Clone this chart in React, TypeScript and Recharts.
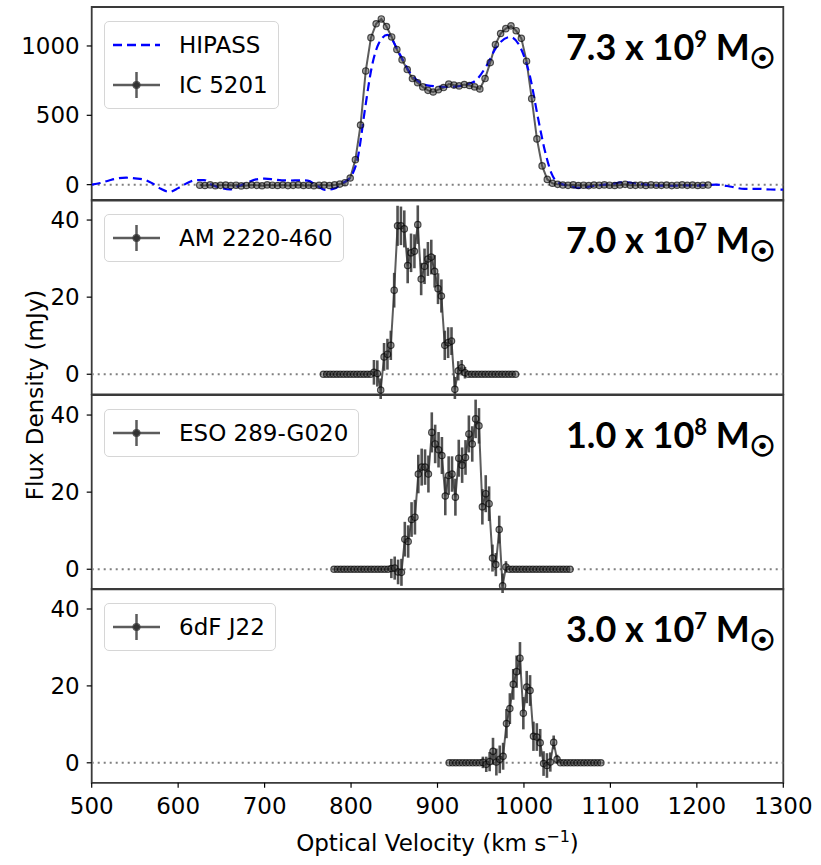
import {
  ErrorBar,
  Legend,
  Line,
  LineChart,
  ReferenceArea,
  ReferenceLine,
  XAxis,
  YAxis,
} from 'recharts'

// x axis
const velocityTicks = [500, 600, 700, 800, 900, 1000, 1100, 1200, 1300]

// HIPASS spectrum (blue dashed), velocity / flux in mJy
const hipassVel = [
  500, 510, 520, 530, 540, 550, 560, 570, 580, 590, 600, 610, 620, 630, 640, 650, 660, 670, 680,
  690, 700, 710, 720, 730, 740, 750, 760, 770, 780, 790, 800, 808, 816, 824, 832, 842, 856, 868,
  888, 914, 941, 957, 968, 984, 999, 1007, 1016, 1024, 1032, 1038, 1046, 1056, 1065, 1080, 1100,
  1117, 1130, 1150, 1170, 1185, 1200, 1222, 1240, 1255, 1270, 1285, 1300,
]
const hipassFlux = [
  0, 12, 30, 45, 50, 45, 38, 10, -30, -52, -25, 10, 32, 33, -5, -25, -34, -10, 15, 38, 43, 38,
  31, 30, 31, 29, -5, -38, -30, 10, 60, 200, 540, 850, 1017, 1080, 945, 810, 716, 704, 738, 860,
  990, 1065, 945, 780, 490, 250, 80, 20, 0, -15, -24, -10, 5, 17, 8, -5, -8, -5, -7, 0, -15, -31,
  -30, -35, -36,
]

// IC 5201 (channels of 6 km/s from 625 km/s)
const ic5201Start = 625
const ic5201Step = 6
const ic5201Flux = [
  -4, -6, -2, -8, -5, -3, -7, -4, -9, -6, -3, -5, -8, -2, -4, -6, -3, -7, -5, -2, -6, -4, -8, -5,
  -3, -6, -2, 4, 14, 48, 180, 430, 820, 1060, 1160, 1195, 1140, 1065, 975, 900, 830, 765, 735, 705,
  680, 668, 685, 700, 725, 718, 712, 722, 715, 705, 690, 765, 880, 1010, 1090, 1125, 1145, 1110,
  1055, 890, 620, 330, 135, 38, 10, 2, -3, -5, -2, -6, -4, -7, -3, -5, -2, -4, -6, -3, 2, -4, -5,
  -3, -6, -2, -4, -5, -3, -7, -4, -2, -5, -3, -6, -4, -3,
]

// AM 2220-460 (channels of 3.9 km/s from 768 km/s)
const am2220Start = 768
const am2220Step = 3.9
const am2220Flux = [
  0, 0, 0, 0, 0, 0, 0, 0, 0, 0, 0, 0, 0, 0, 0, 0.5, 0.2, -4.1, 4.5, 5.2, 7.5, 21.8, 38.5, 38.5,
  37.7, 28.2, 31.5, 31.9, 38.8, 24.7, 28, 29.9, 30.4, 26.7, 22.2, 20.3, 7.5, 8.2, 8.6, -3.9, 0.9,
  1.7, 0.4, 0, 0, 0, 0, 0, 0, 0, 0, 0, 0, 0, 0, 0, 0, 0,
]
const am2220Err = [
  0, 0, 0, 0, 0, 0, 0, 0, 0, 0, 0, 0, 0, 0, 0, 3.2, 3.4, 3.0, 3.6, 4.0, 3.8, 4.5, 5.2, 5.0, 4.8,
  4.6, 5.0, 4.4, 5.0, 4.2, 4.6, 4.4, 4.5, 4.2, 4.0, 4.3, 3.8, 4.0, 3.6, 3.2, 2.5, 2.0, 1.5, 0, 0,
  0, 0, 0, 0, 0, 0, 0, 0, 0, 0, 0, 0, 0,
]

// ESO 289-G020 (channels of 3.9 km/s from 780.3 km/s)
const eso289Start = 780.3
const eso289Step = 3.9
const eso289Flux = [
  0, 0, 0, 0, 0, 0, 0, 0, 0, 0, 0, 0, 0, 0, 0, 0, 0, 0.2, 0.3, -0.7, -0.8, 7.8, 7.2, 12.9, 13.5,
  24.7, 26.5, 26.5, 24.7, 35.5, 32.5, 31, 29.5, 19, 24.3, 24.7, 18.7, 28.8, 27, 29, 35.1, 32.5,
  39, 37.2, 16.2, 19.6, 17, 2.9, 1.2, 10.3, -4.3, 0.6, 0, 0, 0, 0, 0, 0, 0, 0, 0, 0, 0, 0, 0, 0,
  0, 0, 0, 0, 0,
]
const eso289Err = [
  0, 0, 0, 0, 0, 0, 0, 0, 0, 0, 0, 0, 0, 0, 0, 0, 0, 2.5, 3, 3.2, 3.5, 4.5, 4.2, 4.5, 4.5, 5, 4.8,
  4.6, 4.8, 5.2, 5, 4.6, 4.8, 5, 5, 4.6, 4.8, 4.8, 4.6, 4.5, 4.8, 4.6, 5, 4.6, 4.6, 4.8, 4.5, 3.5,
  3, 3.6, 3.2, 1.5, 0, 0, 0, 0, 0, 0, 0, 0, 0, 0, 0, 0, 0, 0, 0, 0, 0, 0, 0,
]

// 6dF J22 (channels of 3.9 km/s from 913.5 km/s)
const j22Start = 913.5
const j22Step = 3.9
const j22Flux = [
  0, 0, 0, 0, 0, 0, 0, 0, 0, 0, 0.1, -0.4, 0.3, 3.0, 0.2, 0.9, 1.7, 10.2, 14.1, 20.4, 23.7, 27.2,
  12.9, 19.7, 18.8, 6.9, 6.7, 5.2, -0.2, -0.7, 0.2, 5.3, 0.9, 0, 0, 0, 0, 0, 0, 0, 0, 0, 0, 0, 0, 0,
]
const j22Err = [
  0, 0, 0, 0, 0, 0, 0, 0, 0, 0, 1.5, 2, 2.5, 3.5, 3.5, 3.6, 3.5, 3.8, 4, 4, 4.2, 4.2, 4.2, 4.2, 4,
  3.8, 3.6, 3.6, 3.2, 3.2, 2.5, 1.8, 1.2, 0, 0, 0, 0, 0, 0, 0, 0, 0, 0, 0, 0, 0,
]

const FONT = 'DejaVu Sans'
const FS = 23
const W = 821
const PANEL_TOPS = [6.7, 200.3, 394.6, 588.9, 782.7]
const PAD = 4
const X_AXIS_H = 50

const channels = (start: number, step: number, flux: number[], err?: number[]) =>
  flux.map((f, i) => ({ v: +(start + step * i).toFixed(1), f, e: err ? err[i] : 0 }))

const hipassData = hipassVel.map((v, i) => ({ v, f: hipassFlux[i] }))

type LegendRow = { label: string; kind: 'dash' | 'err' }

const panels = [
  {
    data: channels(ic5201Start, ic5201Step, ic5201Flux),
    hipass: true,
    domain: [-115, 1281],
    ticks: [0, 500, 1000],
    legend: [
      { label: 'HIPASS', kind: 'dash' },
      { label: 'IC 5201', kind: 'err' },
    ] as LegendRow[],
    mass: ['7.3', '9'],
  },
  {
    data: channels(am2220Start, am2220Step, am2220Flux, am2220Err),
    hipass: false,
    domain: [-5.2, 45.2],
    ticks: [0, 20, 40],
    legend: [{ label: 'AM 2220-460', kind: 'err' }] as LegendRow[],
    mass: ['7.0', '7'],
  },
  {
    data: channels(eso289Start, eso289Step, eso289Flux, eso289Err),
    hipass: false,
    domain: [-5.2, 45.2],
    ticks: [0, 20, 40],
    legend: [{ label: 'ESO 289-G020', kind: 'err' }] as LegendRow[],
    mass: ['1.0', '8'],
  },
  {
    data: channels(j22Start, j22Step, j22Flux, j22Err),
    hipass: false,
    domain: [-5.2, 45.2],
    ticks: [0, 20, 40],
    legend: [{ label: '6dF J22', kind: 'err' }] as LegendRow[],
    mass: ['3.0', '7'],
  },
]

function LegendIcon({ kind }: { kind: 'dash' | 'err' }) {
  return (
    <svg width={48} height={30} style={{ display: 'block' }}>
      {kind === 'dash' ? (
        <line x1={0} y1={15} x2={47} y2={15} stroke="#0000ff" strokeWidth={2.5} strokeDasharray="9 5" />
      ) : (
        <g stroke="#333" strokeOpacity={0.8} strokeWidth={2.5}>
          <line x1={0} y1={15} x2={47} y2={15} />
          <line x1={23.5} y1={2} x2={23.5} y2={28} />
          <circle cx={23.5} cy={15} r={2.8} fill="#333" />
        </g>
      )}
    </svg>
  )
}

function LegendBox({ rows }: { rows: LegendRow[] }) {
  return (
    <div
      style={{
        boxSizing: 'border-box',
        border: '1.5px solid #d6d6d6',
        borderRadius: 5,
        background: 'rgba(255,255,255,0.85)',
        padding: '3px 10px 3px 8px',
        fontFamily: FONT,
        fontSize: FS,
        color: '#000',
      }}
    >
      {rows.map((r) => (
        <div key={r.label} style={{ display: 'flex', alignItems: 'center', height: 40 }}>
          <LegendIcon kind={r.kind} />
          <span style={{ marginLeft: 18, whiteSpace: 'nowrap' }}>{r.label}</span>
        </div>
      ))}
    </div>
  )
}

function MassLabel({ mant, exp, top }: { mant: string; exp: string; top: number }) {
  return (
    <div
      style={{
        position: 'absolute',
        right: W - 775,
        top,
        fontFamily: 'Lato',
        fontWeight: 700,
        fontSize: 36,
        lineHeight: '36px',
        whiteSpace: 'nowrap',
        color: '#000',
      }}
    >
      {mant} x 10
      <span style={{ fontSize: 22, position: 'relative', top: -13 }}>{exp}</span> M
      <span
        style={{
          fontFamily: FONT,
          fontWeight: 700,
          fontSize: 28,
          position: 'relative',
          top: 8,
          WebkitTextStroke: '1.3px #000',
        }}
      >
        ☉
      </span>
    </div>
  )
}

export default function App() {
  return (
    <div style={{ position: 'absolute', left: 0, top: 0, width: W, height: 865, background: '#fff', overflow: 'hidden' }}>
      {panels.map((p, k) => {
        const top = PANEL_TOPS[k]
        const plotH = PANEL_TOPS[k + 1] - top
        const last = k === panels.length - 1
        const height = last ? PAD + plotH + X_AXIS_H : plotH + 2 * PAD
        return (
          <div key={k} style={{ position: 'absolute', left: 0, top: top - PAD }}>
            <LineChart
              width={W}
              height={height}
              margin={{ top: PAD, right: 37.7, bottom: last ? 0 : PAD, left: 31.7 }}
            >
              {last ? (
                <XAxis
                  type="number"
                  dataKey="v"
                  domain={[500, 1300]}
                  ticks={velocityTicks}
                  allowDataOverflow
                  axisLine={false}
                  tickSize={5}
                  tickMargin={10}
                  height={X_AXIS_H}
                  tickLine={{ stroke: '#000', strokeWidth: 1.2 }}
                  tick={{ fontSize: FS, fontFamily: FONT, fill: '#000' }}
                />
              ) : (
                <XAxis type="number" dataKey="v" domain={[500, 1300]} allowDataOverflow hide />
              )}
              <YAxis
                type="number"
                domain={p.domain}
                ticks={p.ticks}
                allowDataOverflow
                width={60}
                axisLine={false}
                tickSize={5}
                tickMargin={7}
                tickLine={{ stroke: '#000', strokeWidth: 1.2 }}
                tick={{ fontSize: FS, fontFamily: FONT, fill: '#000' }}
              />
              <ReferenceLine y={0} stroke="#808080" strokeWidth={2} strokeDasharray="2 4" />
              <Line
                data={p.data}
                dataKey="f"
                type="linear"
                stroke="#333"
                strokeOpacity={0.8}
                strokeWidth={2}
                dot={{ r: 3.2, fill: '#444', fillOpacity: 0.5, stroke: '#000', strokeOpacity: 0.65, strokeWidth: 1.2 }}
                activeDot={false}
                isAnimationActive={false}
              >
                {!p.hipass && (
                  <ErrorBar dataKey="e" direction="y" width={0} stroke="#333" strokeOpacity={0.85} strokeWidth={2.6} />
                )}
              </Line>
              {p.hipass && (
                <Line
                  data={hipassData}
                  dataKey="f"
                  type="monotone"
                  stroke="#0000ff"
                  strokeWidth={2.2}
                  strokeDasharray="9 5"
                  dot={false}
                  activeDot={false}
                  isAnimationActive={false}
                />
              )}
              <ReferenceArea
                x1={500}
                x2={1300}
                y1={p.domain[0]}
                y2={p.domain[1]}
                fill="none"
                stroke="#3a3a3a"
                strokeWidth={1.8}
              />
              <Legend
                layout="vertical"
                align="center"
                verticalAlign="middle"
                wrapperStyle={{ left: 104, top: PAD + 14, width: 'auto', height: 'auto' }}
                content={() => <LegendBox rows={p.legend} />}
              />
            </LineChart>
          </div>
        )
      })}
      {panels.map((p, k) => (
        <MassLabel key={k} mant={p.mass[0]} exp={p.mass[1]} top={PANEL_TOPS[k] + 21} />
      ))}
      <div
        style={{
          position: 'absolute',
          left: 34.5 - 150,
          top: 394.7 - 14,
          width: 300,
          height: 28,
          lineHeight: '28px',
          textAlign: 'center',
          transform: 'rotate(-90deg)',
          fontFamily: FONT,
          fontSize: FS,
          color: '#000',
          whiteSpace: 'nowrap',
        }}
      >
        Flux Density (mJy)
      </div>
      <div
        style={{
          position: 'absolute',
          left: 0,
          width: 875,
          top: 831.5,
          lineHeight: '23px',
          textAlign: 'center',
          fontFamily: FONT,
          fontSize: FS,
          color: '#000',
          whiteSpace: 'nowrap',
        }}
      >
        Optical Velocity (km s<span style={{ fontSize: 16, position: 'relative', top: -9 }}>−1</span>)
      </div>
    </div>
  )
}
